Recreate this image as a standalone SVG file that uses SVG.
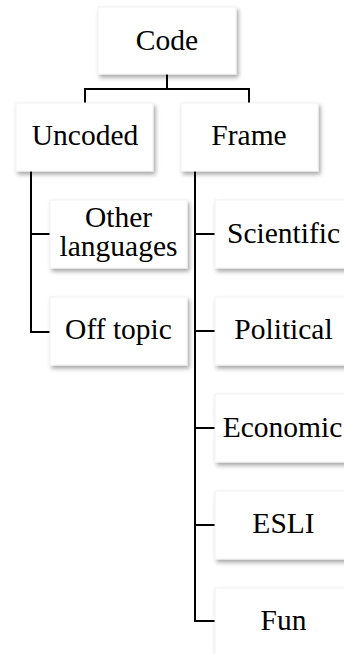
<svg xmlns="http://www.w3.org/2000/svg" width="344" height="654" viewBox="0 0 344 654">
<style>
.box{fill:#ffffff;stroke:#f2f2f2;stroke-width:1;filter:url(#sh)}
.t{font-family:"Liberation Serif","Times New Roman",serif;font-size:29.5px;fill:#000;text-anchor:middle}
.c{fill:none;stroke:#000;stroke-width:2}
</style>
<defs>
<filter id="sh" x="-10%" y="-10%" width="130%" height="140%">
<feDropShadow dx="2" dy="3" stdDeviation="2" flood-color="#000" flood-opacity="0.35"/>
</filter>
</defs>
<rect width="344" height="654" fill="#fff"/>
<g id="connectors">
<path class="c" d="M167 74V89M85 103V89H249V103"/>
<path class="c" d="M31 171V332H50M31 234H50"/>
<path class="c" d="M195 171V621H215M195 234H215M195 331H215M195 428H215M195 525H215"/>
</g>
<g id="code"><rect class="box" x="98" y="7" width="138" height="67"/><text class="t" x="167" y="50">Code</text></g>
<g id="uncoded"><rect class="box" x="16" y="103" width="137" height="68"/><text class="t" x="85" y="145">Uncoded</text></g>
<g id="frame"><rect class="box" x="181" y="103" width="137" height="68"/><text class="t" x="249" y="145">Frame</text></g>
<g id="other-languages"><rect class="box" x="50" y="200" width="137" height="68"/><text class="t" x="118.5" y="227">Other</text><text class="t" x="118.5" y="256">languages</text></g>
<g id="off-topic"><rect class="box" x="50" y="297" width="137" height="68"/><text class="t" x="118.5" y="339">Off topic</text></g>
<g id="scientific"><rect class="box" x="215" y="200" width="137" height="68"/><text class="t" x="283.5" y="243">Scientific</text></g>
<g id="political"><rect class="box" x="215" y="297" width="137" height="68"/><text class="t" x="283.5" y="339">Political</text></g>
<g id="economic"><rect class="box" x="215" y="394" width="137" height="68"/><text class="t" x="282.5" y="437">Economic</text></g>
<g id="esli"><rect class="box" x="215" y="491" width="137" height="68"/><text class="t" x="283.5" y="533">ESLI</text></g>
<g id="fun"><rect class="box" x="215" y="588" width="137" height="68"/><text class="t" x="283.5" y="630">Fun</text></g>
</svg>
